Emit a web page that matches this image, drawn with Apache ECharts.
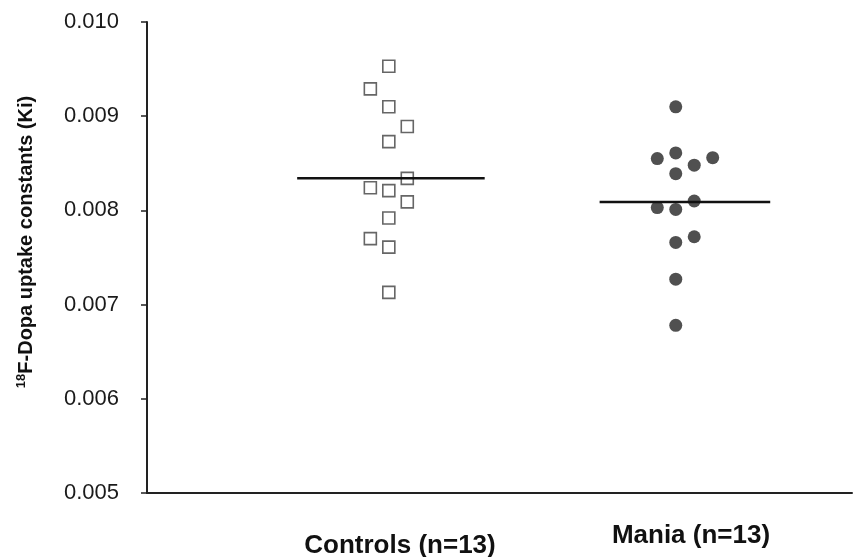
<!DOCTYPE html>
<html>
<head>
<meta charset="utf-8">
<script src="https://cdn.jsdelivr.net/npm/echarts@6/dist/echarts.min.js"></script>
<style>
html,body{margin:0;padding:0;background:#fff;}
#chart{width:858px;height:557px;}
</style>
</head>
<body>
<div id="chart"></div>
<script>
// ---- data ----
const groupNames = ['Controls (n=13)', 'Mania (n=13)'];
const controlsValues = [0.00953, 0.00929, 0.00910, 0.00889, 0.00873, 0.00834, 0.00824, 0.00821, 0.00809, 0.00792, 0.00770, 0.00761, 0.00713];
const controlsColumn = [0, -1, 0, 1, 0, 1, -1, 0, 1, 0, -1, 0, 0];
const maniaValues = [0.00910, 0.00855, 0.00861, 0.00856, 0.00848, 0.00839, 0.00810, 0.00803, 0.00801, 0.00766, 0.00772, 0.00727, 0.00678];
const maniaColumn = [0, -1, 0, 2, 1, 0, 1, -1, 0, 0, 1, 0, 0];
const groupMeans = [0.00834, 0.00809];
const yTicks = ['0.005', '0.006', '0.007', '0.008', '0.009', '0.010'];

// ---- layout constants ----
const groupCenter = [34.3, 75.0];
const colStep = 2.62;
const meanHalfWidth = [13.3, 12.1];
const meanCenterShift = [0.3, 1.3];

const FONT = 'Liberation Sans, Arial, Helvetica, sans-serif';

function pts(vals, cols, g) {
  return vals.map((v, i) => [groupCenter[g] + cols[i] * colStep, v]);
}
function meanLine(g) {
  const c = groupCenter[g] + meanCenterShift[g];
  return [[c - meanHalfWidth[g], groupMeans[g]], [c + meanHalfWidth[g], groupMeans[g]]];
}

const chart = echarts.init(document.getElementById('chart'), null, {renderer: 'canvas'});
chart.setOption({
  backgroundColor: '#fff',
  animation: false,
  grid: {left: 147, right: 6, top: 22, bottom: 64, containLabel: false},
  xAxis: {
    type: 'value', min: 0, max: 100,
    axisLine: {show: true, lineStyle: {color: '#222', width: 2}},
    axisTick: {show: false}, axisLabel: {show: false}, splitLine: {show: false}
  },
  yAxis: {
    type: 'value', min: 0.005, max: 0.010, interval: 0.001,
    axisLine: {show: true, lineStyle: {color: '#222', width: 2}},
    axisTick: {show: true, inside: false, length: 6, lineStyle: {color: '#222', width: 1.5}},
    axisLabel: {
      margin: 28, fontSize: 22, color: '#1a1a1a', fontFamily: FONT,
      formatter: (v) => yTicks[Math.round((v - 0.005) / 0.001)]
    },
    splitLine: {show: false}
  },
  series: [
    {
      name: 'Controls', type: 'scatter', symbol: 'rect', symbolSize: 12,
      itemStyle: {color: '#fff', borderColor: '#666', borderWidth: 1.6, opacity: 1},
      data: pts(controlsValues, controlsColumn, 0), z: 3
    },
    {
      name: 'Mania', type: 'scatter', symbol: 'circle', symbolSize: 13,
      itemStyle: {color: '#505050', opacity: 1},
      data: pts(maniaValues, maniaColumn, 1), z: 3
    },
    {
      type: 'line', data: meanLine(0), symbol: 'none', z: 4,
      lineStyle: {color: '#111', width: 2.5}
    },
    {
      type: 'line', data: meanLine(1), symbol: 'none', z: 4,
      lineStyle: {color: '#111', width: 2.5}
    }
  ],
  graphic: [
    {
      type: 'text', x: 400, y: 546,
      style: {text: groupNames[0], font: 'bold 26px ' + FONT, fill: '#111', textAlign: 'center', textVerticalAlign: 'middle'}
    },
    {
      type: 'text', x: 691, y: 536,
      style: {text: groupNames[1], font: 'bold 26px ' + FONT, fill: '#111', textAlign: 'center', textVerticalAlign: 'middle'}
    },
    {
      type: 'text', x: 26, y: 242, rotation: Math.PI / 2,
      style: {
        text: '{sup|18}{main|F-Dopa uptake constants (Ki)}',
        textAlign: 'center', textVerticalAlign: 'middle',
        rich: {
          sup: {fontSize: 13, fontWeight: 'bold', fontFamily: FONT, fill: '#111', verticalAlign: 'top', padding: [0, 0, 10, 0]},
          main: {fontSize: 20, fontWeight: 'bold', fontFamily: FONT, fill: '#111'}
        }
      }
    }
  ]
});
</script>
</body>
</html>
